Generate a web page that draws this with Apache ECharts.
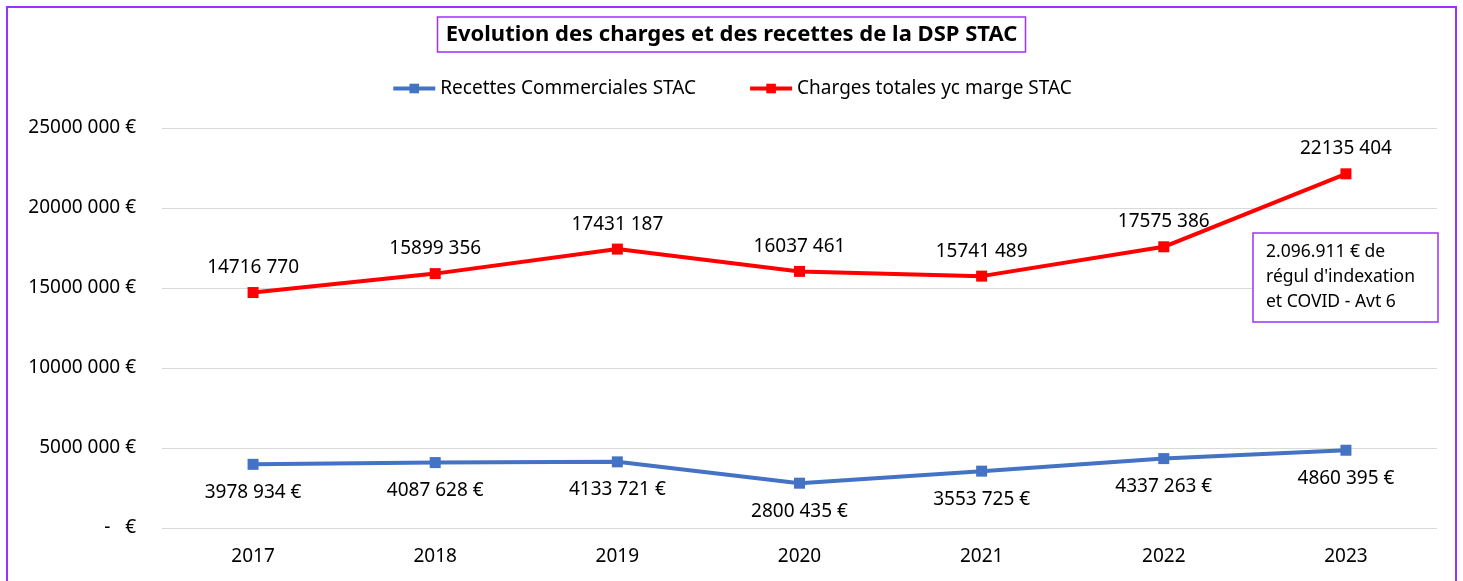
<!DOCTYPE html>
<html>
<head>
<meta charset="utf-8">
<script src="https://cdn.jsdelivr.net/npm/echarts@6/dist/echarts.min.js"></script>
<style>
  html, body { margin: 0; padding: 0; background: #fff; }
  #chart { width: 1463px; height: 581px; }
</style>
</head>
<body>
<div id="chart"></div>
<script>
var years = ['2017', '2018', '2019', '2020', '2021', '2022', '2023'];
var recettes = [3978934, 4087628, 4133721, 2800435, 3553725, 4337263, 4860395];
var charges = [14716770, 15899356, 17431187, 16037461, 15741489, 17575386, 22135404];
var noteLines = ['2.096.911 € de', 'régul d\'indexation', 'et COVID - Avt 6'];

var FONT = 'Noto Sans';

// 25000 000 -> "25000 000"
function fmt(v)
{
    var s = Math.round(v).toString();
    if (s.length <= 3) return s;
    return s.slice(0, -3) + ' ' + s.slice(-3);
}

var myChart = echarts.init(document.getElementById('chart'));

option = {
    animation: false,
    title: {
        text: 'Evolution des charges et des recettes de la DSP STAC',
        left: 'center',
        top: 17,
        padding: [7, 8, 6, 8],
        borderColor: '#9b30ff',
        borderWidth: 1.5,
        textStyle: {
            fontFamily: FONT,
            fontSize: 22,
            fontWeight: 'bold',
            color: '#000'
        }
    },
    legend: {
        top: 74,
        left: 'center',
        itemGap: 52,
        itemWidth: 42,
        itemHeight: 12,
        lineStyle: { width: 4 },
        textStyle: { fontFamily: FONT, fontSize: 19, color: '#000' },
        data: ['Recettes Commerciales STAC', 'Charges totales yc marge STAC']
    },
    grid: {
        left: 162,
        right: 26,
        top: 128,
        bottom: 53
    },
    xAxis: {
        type: 'category',
        data: years,
        axisLine: { show: false },
        axisTick: { show: false },
        axisLabel: { margin: 19, fontFamily: FONT, fontSize: 19, color: '#000' }
    },
    yAxis: {
        type: 'value',
        min: 0,
        max: 25000000,
        interval: 5000000,
        splitLine: { lineStyle: { color: '#d9d9d9', width: 1 } },
        axisLabel: {
            margin: 26,
            fontFamily: FONT,
            fontSize: 19,
            color: '#000',
            formatter: function (v) {
                return v === 0 ? '-   €' : fmt(v) + ' €';
            }
        }
    },
    series: [{
        name: 'Recettes Commerciales STAC',
        type: 'line',
        data: recettes,
        symbol: 'rect',
        symbolSize: 11,
        itemStyle: { color: '#4472c4' },
        lineStyle: { color: '#4472c4', width: 4 },
        label: {
            show: true,
            position: 'bottom',
            distance: 13,
            fontFamily: FONT,
            fontSize: 19,
            color: '#000',
            formatter: function (p) { return fmt(p.value) + ' €'; }
        }
    },
    {
        name: 'Charges totales yc marge STAC',
        type: 'line',
        data: charges,
        symbol: 'rect',
        symbolSize: 11,
        itemStyle: { color: '#ff0000' },
        lineStyle: { color: '#ff0000', width: 4 },
        label: {
            show: true,
            position: 'top',
            distance: 10,
            fontFamily: FONT,
            fontSize: 19,
            color: '#000',
            formatter: function (p) { return fmt(p.value); }
        }
    }],
    graphic: [
        // cadre extérieur
        {
            type: 'rect',
            shape: { x: 7, y: 7, width: 1449, height: 590 },
            style: { fill: 'none', stroke: '#9b30ff', lineWidth: 2 },
            silent: true
        },
        // note 2023
        {
            type: 'rect',
            shape: { x: 1253, y: 233, width: 185, height: 89 },
            style: { fill: '#fff', stroke: '#9b30ff', lineWidth: 1.5 },
            z: 10
        },
        {
            type: 'text',
            left: 1266,
            top: 240,
            z: 11,
            style: {
                text: noteLines.join('\n'),
                fontFamily: FONT,
                fontSize: 17.5,
                lineHeight: 25,
                fill: '#000'
            }
        }
    ]
};

myChart.setOption(option);
</script>
</body>
</html>
